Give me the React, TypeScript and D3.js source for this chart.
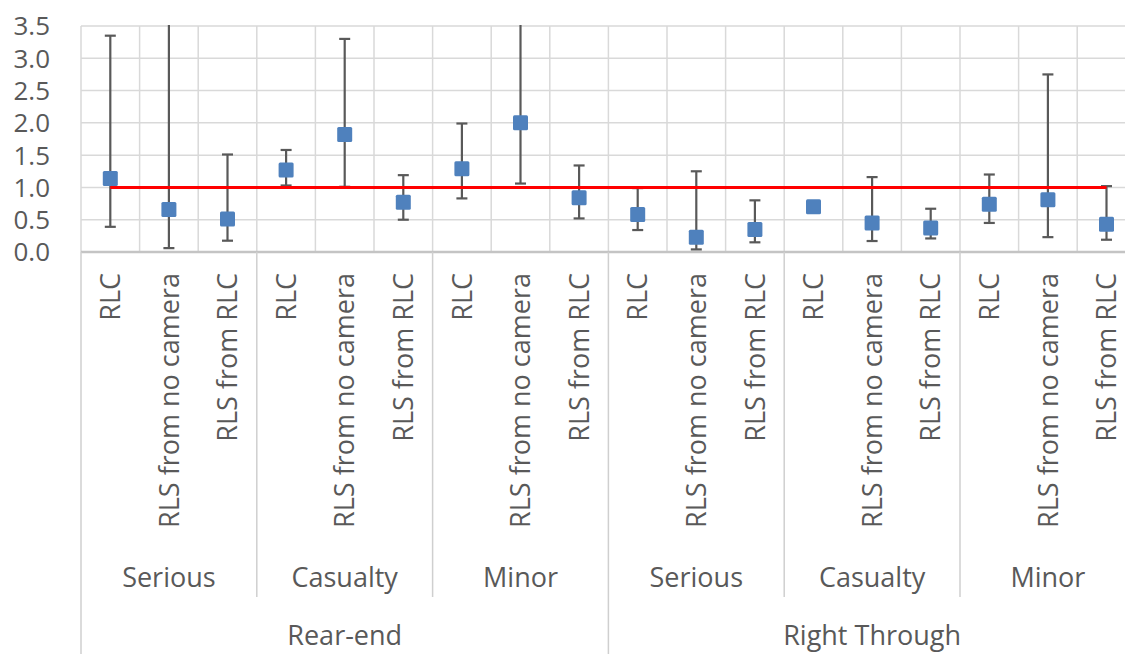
import React, { useRef, useEffect } from 'react';
import * as d3 from 'd3';

const crashTypes = ['Rear-end', 'Right Through'];
const severities = ['Serious', 'Casualty', 'Minor'];
const treatments = ['RLC', 'RLS from no camera', 'RLS from RLC'];

// point estimates, in order crash type > severity > treatment
const estimates = [1.14, 0.66, 0.51, 1.27, 1.82, 0.77, 1.29, 2.0, 0.84, 0.58, 0.23, 0.35, 0.7, 0.45, 0.37, 0.74, 0.81, 0.43];
const upperCI = [3.35, 4.6, 1.51, 1.58, 3.3, 1.19, 1.99, 4.1, 1.34, 0.99, 1.25, 0.8, 0.7, 1.16, 0.67, 1.2, 2.75, 1.02];
const lowerCI = [0.39, 0.06, 0.175, 1.03, 1.01, 0.5, 0.83, 1.06, 0.52, 0.34, 0.04, 0.15, 0.7, 0.17, 0.21, 0.45, 0.23, 0.19];
const referenceValue = 1;
const yTicks = [0, 0.5, 1, 1.5, 2, 2.5, 3, 3.5];

const W = 1125;
const H = 654;
const FONT = '"Open Sans", sans-serif';
const TEXT = '#595959';

const App: React.FC = () => {
    const svgRef = useRef<SVGSVGElement | null>(null);

    useEffect(() => {
        const svg = d3.select(svgRef.current);
        svg.selectAll('*').remove();

        const rows = crashTypes.flatMap((c) =>
            severities.flatMap((s) => treatments.map((t) => ({ crash: c, severity: s, treatment: t })))
        );
        const keys = rows.map((_, i) => String(i));
        const data = rows.map((r, i) => ({ ...r, key: keys[i], est: estimates[i], lo: lowerCI[i], hi: upperCI[i] }));

        const left = 81;
        const step = 58.6;
        const x = d3.scaleBand().domain(keys).range([left, left + step * keys.length]).padding(0);
        const y = d3.scaleLinear().domain([0, 3.5]).range([252, 26]);
        const cx = (k: string) => x(k)! + x.bandwidth() / 2;

        svg.append('defs').append('clipPath').attr('id', 'plotclip')
            .append('rect').attr('x', left).attr('y', y(3.5) - 1).attr('width', W).attr('height', y(0) - y(3.5) + 2);

        // grid
        const grid = svg.append('g');
        grid.selectAll('.hg').data(yTicks.filter((t) => t > 0)).enter().append('line')
            .attr('x1', left).attr('x2', W + 20)
            .attr('y1', (d) => y(d)).attr('y2', (d) => y(d))
            .attr('stroke', '#D9D9D9').attr('stroke-width', 1.5);
        grid.selectAll('.vg').data(keys).enter().append('line')
            .attr('x1', (d) => x(d)!).attr('x2', (d) => x(d)!)
            .attr('y1', y(3.5)).attr('y2', y(0))
            .attr('stroke', '#D9D9D9').attr('stroke-width', 1.5);

        // y labels
        svg.append('g').selectAll('text').data(yTicks).enter().append('text')
            .attr('x', 50).attr('y', (d) => y(d)).attr('dy', '0.36em')
            .attr('text-anchor', 'end')
            .style('font-family', FONT).style('font-size', '26px').attr('fill', TEXT)
            .text((d) => d3.format('.1f')(d));

        // category axis
        const ax = svg.append('g').attr('stroke', '#CFCFCF').attr('stroke-width', 1.5);
        ax.append('line').attr('x1', left).attr('x2', W + 20).attr('y1', y(0)).attr('y2', y(0))
            .attr('stroke', '#C4C4C4').attr('stroke-width', 2.5);
        const groupStarts = keys.filter((_, i) => i % 3 === 0);
        ax.selectAll('.gs').data(groupStarts).enter().append('line')
            .attr('x1', (d) => x(d)!).attr('x2', (d) => x(d)!)
            .attr('y1', y(0)).attr('y2', (d) => (+d % 9 === 0 ? H : 597));

        // treatment labels
        svg.append('g').selectAll('text').data(data).enter().append('text')
            .attr('transform', (d) => `translate(${cx(d.key)},273) rotate(-90)`)
            .attr('dy', '0.36em').attr('text-anchor', 'end')
            .style('font-family', FONT).style('font-size', '27px').attr('fill', TEXT)
            .text((d) => d.treatment);

        // severity labels
        const sevGroups = crashTypes.flatMap((c, ci) => severities.map((s, si) => ({ label: s, first: keys[ci * 9 + si * 3], last: keys[ci * 9 + si * 3 + 2] })));
        svg.append('g').selectAll('text').data(sevGroups).enter().append('text')
            .attr('x', (d) => (x(d.first)! + x(d.last)! + x.bandwidth()) / 2).attr('y', 587)
            .attr('text-anchor', 'middle')
            .style('font-family', FONT).style('font-size', '27px').attr('fill', TEXT)
            .text((d) => d.label);

        // crash type labels
        svg.append('g').selectAll('text').data(crashTypes).enter().append('text')
            .attr('x', (_, i) => (x(keys[i * 9])! + x(keys[i * 9 + 8])! + x.bandwidth()) / 2).attr('y', 645)
            .attr('text-anchor', 'middle')
            .style('font-family', FONT).style('font-size', '27px').attr('fill', TEXT)
            .text((d) => d);

        // error bars
        const eb = svg.append('g').attr('clip-path', 'url(#plotclip)').attr('stroke', '#595959').attr('stroke-width', 2.2);
        eb.selectAll('.v').data(data).enter().append('line')
            .attr('x1', (d) => cx(d.key)).attr('x2', (d) => cx(d.key))
            .attr('y1', (d) => y(d.lo)).attr('y2', (d) => y(d.hi));
        const caps = data.flatMap((d) => [{ key: d.key, v: d.lo }, { key: d.key, v: d.hi }]).filter((c) => c.v <= 3.5);
        eb.selectAll('.c').data(caps).enter().append('line')
            .attr('x1', (d) => cx(d.key) - 5.5).attr('x2', (d) => cx(d.key) + 5.5)
            .attr('y1', (d) => y(d.v)).attr('y2', (d) => y(d.v));

        // markers
        svg.append('g').selectAll('rect').data(data).enter().append('rect')
            .attr('x', (d) => cx(d.key) - 7.5).attr('y', (d) => y(d.est) - 7.5)
            .attr('width', 15).attr('height', 15).attr('rx', 1.5)
            .attr('fill', '#4F81BD');

        // reference line at 1
        const line = d3.line<string>().x((k) => cx(k)).y(() => y(referenceValue));
        svg.append('path').datum(keys).attr('d', line)
            .attr('fill', 'none').attr('stroke', '#FF0000').attr('stroke-width', 3);
    }, []);

    return (
        <div style={{ position: 'absolute', left: 0, top: 0 }}>
            <svg ref={svgRef} width={W} height={H} style={{ display: 'block', background: '#fff' }}></svg>
        </div>
    );
};

export default App;
